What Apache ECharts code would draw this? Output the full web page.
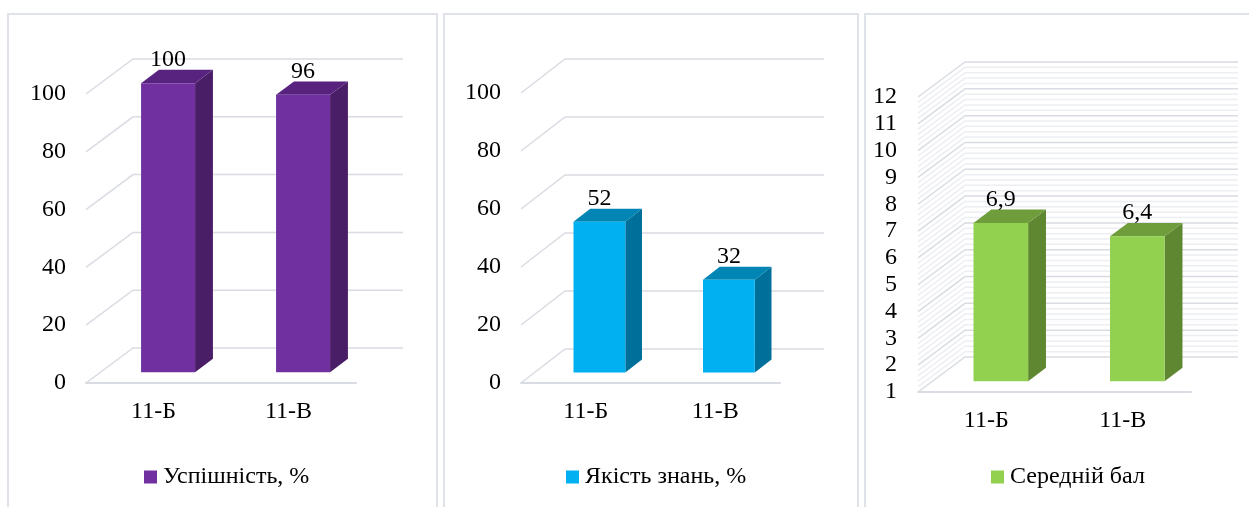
<!DOCTYPE html>
<html>
<head>
<meta charset="utf-8">
<script src="https://cdn.jsdelivr.net/npm/echarts@6.0.0/dist/echarts.min.js"></script>
<style>
  html, body { margin: 0; padding: 0; background: #fff; }
  #chart { width: 1249px; height: 507px; }
</style>
</head>
<body>
<div id="chart"></div>
<script>
// Class names shared by all three panels
const classes = ['11-Б', '11-В'];

// Panel values
const successRate = [100, 96];      // Успішність, %
const knowledgeQuality = [52, 32];  // Якість знань, %
const averageScore = [6.9, 6.4];    // Середній бал

// Value-axis ticks of each panel
const percentTicks = [0, 20, 40, 60, 80, 100];
const scoreTicks = [1, 2, 3, 4, 5, 6, 7, 8, 9, 10, 11, 12];

const FONT = 'Liberation Serif';
const FONT_SIZE = 24;
const GRID_COLOR = '#d9dce3';
const MINOR_COLOR = '#eceef2';

// Depth of the pseudo-3D box and where the bar sits inside it
const BAR_FRONT = 0.31, BAR_BACK = 0.69, BAR_WIDTH = 0.4;

const panels = [
  { name: 'Успішність, %', values: successRate, ticks: percentTicks, min: 0, max: 100, interval: 20,
    grid: { left: 86, top: 94, width: 270, height: 289 }, dx: 47, dy: 35, minor: 0,
    colors: { front: '#7030a0', side: '#4a1e67', top: '#58237f' }, legendLeft: 144, labelMargin: 20 },
  { name: 'Якість знань, %', values: knowledgeQuality, ticks: percentTicks, min: 0, max: 100, interval: 20,
    grid: { left: 521, top: 93, width: 259, height: 290 }, dx: 44, dy: 34, minor: 0,
    colors: { front: '#00b0f0', side: '#00709a', top: '#0085b5' }, legendLeft: 566, labelMargin: 20 },
  { name: 'Середній бал', values: averageScore, ticks: scoreTicks, min: 1, max: 12, interval: 1,
    grid: { left: 918, top: 97, width: 273, height: 295 }, dx: 47, dy: 35, minor: 5,
    colors: { front: '#92d050', side: '#5f8731', top: '#6f9d3c' }, legendLeft: 991, labelMargin: 21 }
];

function formatValue(v) {
  return String(v).replace('.', ',');
}

// Back and side walls: one polyline per tick (plus faint minor lines)
function wallRenderer(p) {
  return function (params, api) {
    const cs = params.coordSys;
    const v = api.value(1);
    const children = [];
    const addLine = (val, color) => {
      const y = api.coord([0, val])[1];
      children.push({
        type: 'polyline',
        shape: { points: [[cs.x, y], [cs.x + p.dx, y - p.dy], [cs.x + cs.width + p.dx, y - p.dy]] },
        style: { stroke: color, lineWidth: 1.5, fill: null },
        silent: true
      });
    };
    if (p.minor && v < p.max) {
      for (let k = 1; k < p.minor; k++) addLine(v + k * p.interval / p.minor, MINOR_COLOR);
    }
    addLine(v, GRID_COLOR);
    return { type: 'group', children: children };
  };
}

// Box-shaped bar: front face, right side, top face and the value label
function barRenderer(p) {
  return function (params, api) {
    const cat = api.value(0), val = api.value(1);
    const base = api.coord([cat, p.min]);
    const top = api.coord([cat, val]);
    const band = api.size([1, 0])[0];
    const w = band * BAR_WIDTH;
    const cx = base[0] + p.dx * BAR_FRONT;
    const by = base[1] - p.dy * BAR_FRONT;
    const ty = top[1] - p.dy * BAR_FRONT;
    const ox = p.dx * (BAR_BACK - BAR_FRONT), oy = p.dy * (BAR_BACK - BAR_FRONT);
    const l = cx - w / 2, r = cx + w / 2;
    return {
      type: 'group',
      children: [
        { type: 'polygon', shape: { points: [[r, ty], [r + ox, ty - oy], [r + ox, by - oy], [r, by]] },
          style: { fill: p.colors.side } },
        { type: 'polygon', shape: { points: [[l, ty], [l + ox, ty - oy], [r + ox, ty - oy], [r, ty]] },
          style: { fill: p.colors.top } },
        { type: 'rect', shape: { x: l, y: ty, width: w, height: by - ty },
          style: { fill: p.colors.front } },
        { type: 'text', x: cx, y: ty - oy + 2,
          style: { text: formatValue(val), fontFamily: FONT, fontSize: FONT_SIZE, fill: '#000',
                   align: 'center', verticalAlign: 'bottom' } }
      ]
    };
  };
}

const grid = [], xAxis = [], yAxis = [], series = [], legend = [];
panels.forEach((p, i) => {
  grid.push(Object.assign({ containLabel: false }, p.grid));
  xAxis.push({
    type: 'category', gridIndex: i, data: classes,
    axisLine: { show: true, lineStyle: { color: GRID_COLOR, width: 2 } },
    axisTick: { show: false },
    axisLabel: { fontFamily: FONT, fontSize: FONT_SIZE, color: '#000', margin: 17 },
    splitLine: { show: false }
  });
  yAxis.push({
    type: 'value', gridIndex: i, min: p.min, max: p.max, interval: p.interval,
    axisLine: { show: false }, axisTick: { show: false },
    axisLabel: { fontFamily: FONT, fontSize: FONT_SIZE, color: '#000', margin: p.labelMargin },
    splitLine: { show: false }
  });
  series.push({
    type: 'custom', name: 'wall' + i, xAxisIndex: i, yAxisIndex: i, silent: true, z: 1,
    renderItem: wallRenderer(p),
    data: p.ticks.map(t => [0, t])
  });
  series.push({
    type: 'custom', name: p.name, xAxisIndex: i, yAxisIndex: i, z: 2,
    itemStyle: { color: p.colors.front },
    renderItem: barRenderer(p),
    data: p.values.map((v, k) => [k, v])
  });
  legend.push({
    data: [p.name], left: p.legendLeft, top: 465, icon: 'rect', padding: 0,
    itemWidth: 13, itemHeight: 13, selectedMode: false,
    textStyle: { fontFamily: FONT, fontSize: FONT_SIZE, color: '#000', padding: [0, 0, 0, 1] }
  });
});

const chart = echarts.init(document.getElementById('chart'), null, { renderer: 'canvas' });
chart.setOption({
  animation: false,
  backgroundColor: '#fff',
  graphic: [
    { type: 'rect', shape: { x: 8, y: 14, width: 429, height: 510 }, style: { fill: null, stroke: '#dfe3e9', lineWidth: 2 }, silent: true },
    { type: 'rect', shape: { x: 444, y: 14, width: 414, height: 510 }, style: { fill: null, stroke: '#dfe3e9', lineWidth: 2 }, silent: true },
    { type: 'rect', shape: { x: 865, y: 14, width: 400, height: 510 }, style: { fill: null, stroke: '#dfe3e9', lineWidth: 2 }, silent: true }
  ],
  grid: grid, xAxis: xAxis, yAxis: yAxis, series: series, legend: legend
});
</script>
</body>
</html>
